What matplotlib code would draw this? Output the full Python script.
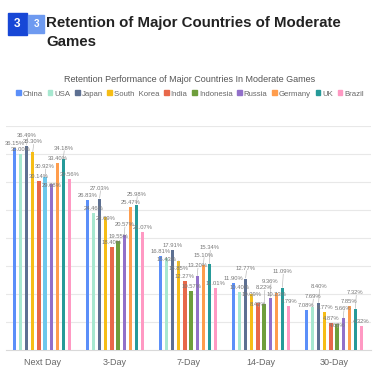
import matplotlib
matplotlib.use("Agg")
from matplotlib import pyplot as plt
from matplotlib.patches import Rectangle, Patch
import numpy as np

plt.rcParams['font.family'] = ['Liberation Sans', 'DejaVu Sans']

periods = ["Next Day", "3-Day", "7-Day", "14-Day", "30-Day"]
countries = ["China", "USA", "Japan", "South  Korea", "India", "Indonesia",
             "Russia", "Germany", "UK", "Brazil"]
retention = {
    "China":        [36.15, 26.83, 16.81, 11.90, 7.08],
    "USA":          [35.00, 24.46, 16.43, 10.40, 7.69],
    "Japan":        [36.49, 27.03, 17.91, 12.77, 8.40],
    "South  Korea": [35.30, 23.69, 15.85, 10.09, 6.77],
    "India":        [30.14, 18.40, 12.27, 8.42, 4.87],
    "Indonesia":    [30.92, 19.55, 10.57, 8.22, 4.68],
    "Russia":       [29.68, 20.57, 13.20, 9.36, 5.66],
    "Germany":      [33.40, 25.47, 15.10, 10.23, 7.85],
    "UK":           [34.18, 25.98, 15.34, 11.09, 7.32],
    "Brazil":       [30.56, 21.07, 11.01, 7.79, 4.32],
}
colors = ["#5B8FF9", "#A7E8D0", "#5D7092", "#F6BD16", "#E8684A", "#6E9E3C",
          "#9270CA", "#FF9D4D", "#269A99", "#FF99C3"]

fig = plt.figure(figsize=(3.82, 3.76), dpi=100)
ax = fig.add_axes([0.0144, 0.069, 0.9556, 0.596])

x = np.arange(len(periods))
step = 0.084
width = 0.045
for i, c in enumerate(countries):
    pos = x + (i - 4.5) * step
    cols = [colors[i]] * len(periods)
    if c == "Indonesia":
        cols[0] = "#6DC8EC"
    ax.bar(pos, retention[c], width=width, color=cols, zorder=3)

# value labels, nudged up/down so they do not pile on each other
h = 1.05
for g in range(len(periods)):
    placed = []
    for i, c in enumerate(countries):
        v = retention[c][g]
        px = x[g] + (i - 4.5) * step
        base = v + 0.35
        y = base
        for k in [0, 1, -1, 2, -2, 3, -3]:
            cand = base + k * h
            ok = True
            for (qi, qy) in placed:
                if abs(qi - i) <= 2 and abs(qy - cand) < h:
                    ok = False
                    break
            if ok:
                y = cand
                break
        placed.append((i, y))
        if abs(y - base) > 0.5:
            ax.plot([px, px + 0.01], [v + 0.1, y], color="#aaaaaa",
                    linewidth=0.4, zorder=4)
        ax.text(px, y, f"{v:.2f}%", ha="center", va="bottom",
                fontsize=4.2, color="#777777", zorder=5)

ax.set_xlim(-0.5, len(periods) - 0.5)
ax.set_ylim(0, 40)
ax.set_yticks(np.arange(5, 41, 5))
ax.yaxis.grid(True, color="#e8e8e8", linewidth=0.8, zorder=0)
ax.tick_params(axis="y", left=False, labelleft=False)
ax.set_xticks(x)
ax.set_xticklabels(periods, fontsize=6.5, color="#666666")
ax.tick_params(axis="x", length=0, pad=6)
for s in ["top", "right", "left"]:
    ax.spines[s].set_visible(False)
ax.spines["bottom"].set_color("#d9d9d9")

# title block
fig.patches.append(Rectangle((8 / 382, 1 - 35 / 376), 19 / 382, 22 / 376,
                             transform=fig.transFigure, color="#1747D6"))
fig.patches.append(Rectangle((28 / 382, 1 - 33 / 376), 16 / 382, 18 / 376,
                             transform=fig.transFigure, color="#6E9AF0"))
fig.text(17.5 / 382, 1 - 24 / 376, "3", color="white", fontsize=8.5,
         fontweight="bold", ha="center", va="center")
fig.text(36 / 382, 1 - 24 / 376, "3", color="white", fontsize=7,
         fontweight="bold", ha="center", va="center")
fig.text(46 / 382, 1 - 23 / 376, "Retention of Major Countries of Moderate",
         fontsize=10.8, fontweight="bold", color="#222222", va="center")
fig.text(46 / 382, 1 - 42 / 376, "Games",
         fontsize=10.8, fontweight="bold", color="#222222", va="center")

fig.text(190 / 382, 1 - 79 / 376,
         "Retention Performance of Major Countries In Moderate Games",
         fontsize=6.5, color="#555555", ha="center", va="center")

handles = []
for i, c in enumerate(countries):
    handles.append(Patch(color=colors[i], label=c))
fig.legend(handles=handles, loc="center", bbox_to_anchor=(190 / 382, 1 - 94 / 376),
           ncol=10, frameon=False, fontsize=5.6, handlelength=0.6,
           handleheight=0.6, handletextpad=0.25, columnspacing=0.6,
           labelcolor="#666666")

fig.savefig("out.png", dpi=100)
